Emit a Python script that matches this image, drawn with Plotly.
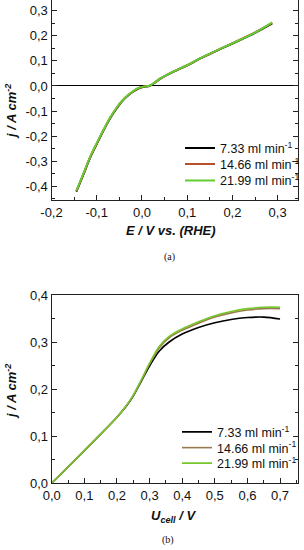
import plotly.graph_objects as go

# ---- data: panel (a) ----
E_a = [-0.145, -0.13, -0.115, -0.10, -0.085, -0.07, -0.055, -0.045, -0.034, -0.02,
       -0.008, 0.005, 0.017, 0.03, 0.04, 0.069, 0.10, 0.128, 0.16, 0.20, 0.25, 0.288]
j_a_733 = [-0.422, -0.356, -0.288, -0.232, -0.178, -0.128, -0.087, -0.063, -0.043, -0.023,
           -0.010, -0.003, 0.0, 0.015, 0.028, 0.056, 0.082, 0.109, 0.136, 0.169, 0.212, 0.250]
j_a_1466 = [-0.420, -0.354, -0.286, -0.230, -0.176, -0.126, -0.085, -0.062, -0.042, -0.022,
            -0.009, -0.002, 0.001, 0.016, 0.029, 0.057, 0.083, 0.110, 0.137, 0.171, 0.214, 0.252]
j_a_2199 = [-0.418, -0.352, -0.284, -0.228, -0.175, -0.125, -0.084, -0.061, -0.041, -0.021,
            -0.008, -0.002, 0.001, 0.016, 0.029, 0.057, 0.083, 0.110, 0.137, 0.170, 0.213, 0.254]

# ---- data: panel (b) ----
U_b = [0.0, 0.05, 0.10, 0.15, 0.20, 0.225, 0.25, 0.275, 0.30, 0.33, 0.36, 0.40, 0.45, 0.50, 0.55, 0.60, 0.65, 0.70]
j_b_733 = [0.0, 0.034, 0.069, 0.104, 0.140, 0.160, 0.185, 0.217, 0.249, 0.281, 0.300, 0.317, 0.331, 0.341, 0.348, 0.352, 0.353, 0.349]
j_b_1466 = [0.0, 0.034, 0.069, 0.104, 0.140, 0.161, 0.186, 0.219, 0.253, 0.288, 0.309, 0.325, 0.340, 0.353, 0.362, 0.368, 0.371, 0.371]
j_b_2199 = [0.0, 0.034, 0.069, 0.104, 0.140, 0.161, 0.187, 0.220, 0.255, 0.291, 0.312, 0.328, 0.343, 0.356, 0.365, 0.371, 0.374, 0.374]

series_names = ["7.33 ml min<sup>-1</sup>", "14.66 ml min<sup>-1</sup>", "21.99 ml min<sup>-1</sup>"]

# ---- tick labels ----
xa_vals = [-0.2, -0.1, 0.0, 0.1, 0.2, 0.3]
xa_text = ["-0,2", "-0,1", "0,0", "0,1", "0,2", "0,3"]
ya_vals = [-0.4, -0.3, -0.2, -0.1, 0.0, 0.1, 0.2, 0.3]
ya_text = ["-0,4", "-0,3", "-0,2", "-0,1", "0,0", "0,1", "0,2", "0,3"]
xb_vals = [0.0, 0.1, 0.2, 0.3, 0.4, 0.5, 0.6, 0.7]
xb_text = ["0,0", "0,1", "0,2", "0,3", "0,4", "0,5", "0,6", "0,7"]
yb_vals = [0.0, 0.1, 0.2, 0.3, 0.4]
yb_text = ["0,0", "0,1", "0,2", "0,3", "0,4"]

colors_a = ["#000000", "#B8522E", "#66CC33"]
colors_b = ["#000000", "#9A7A52", "#77C62A"]

W, H = 304, 550


def px_x(p):
    return p / W


def px_y(p):
    return 1 - p / H


fig = go.Figure()

legfont = dict(family="Liberation Sans, Arial, sans-serif", size=12.5, color="#111")
legends = {}
rows_a = [148.3, 164.3, 180.8]
rows_b = [432.3, 448.0, 463.5]
for i, (ys, nm, c) in enumerate(zip([j_a_733, j_a_1466, j_a_2199], series_names, colors_a)):
    lg = "legend" if i == 0 else f"legend{i + 1}"
    fig.add_trace(go.Scatter(x=E_a, y=ys, mode="lines", name=nm, line=dict(color=c, width=2, shape="spline"),
                             xaxis="x", yaxis="y", legend=lg))
    legends[lg] = dict(x=px_x(180), y=px_y(rows_a[i]), xanchor="left", yanchor="middle",
                       bgcolor="rgba(0,0,0,0)", font=legfont, itemwidth=30)
for i, (ys, nm, c) in enumerate(zip([j_b_733, j_b_1466, j_b_2199], series_names, colors_b)):
    lg = f"legend{i + 4}"
    fig.add_trace(go.Scatter(x=U_b, y=ys, mode="lines", name=nm, line=dict(color=c, width=1.6, shape="spline"),
                             xaxis="x2", yaxis="y2", legend=lg))
    legends[lg] = dict(x=px_x(177), y=px_y(rows_b[i]), xanchor="left", yanchor="middle",
                       bgcolor="rgba(0,0,0,0)", font=legfont, itemwidth=30)

tickfont = dict(family="Liberation Sans, Arial, sans-serif", size=13, color="#111")
common = dict(ticks="inside", ticklen=5, tickwidth=1, tickcolor="#222", showline=True, linecolor="#222",
              linewidth=1.2, showgrid=False, tickfont=tickfont, automargin=False,
              minor=dict(ticks="inside", ticklen=3, tickcolor="#222", dtick=0.05, showgrid=False))

fig.update_layout(
    width=W, height=H, margin=dict(l=0, r=0, t=0, b=0, autoexpand=False),
    paper_bgcolor="white", plot_bgcolor="white", showlegend=True,
    xaxis=dict(domain=[px_x(51.5), px_x(298)], range=[-0.2, 0.345], anchor="y",
               tickvals=xa_vals, ticktext=xa_text, zeroline=False, mirror=False, **common),
    yaxis=dict(domain=[px_y(200), px_y(0)], range=[-0.455, 0.343], anchor="x",
               tickvals=ya_vals, ticktext=ya_text, zeroline=True, zerolinecolor="#000",
               zerolinewidth=1.2, mirror="ticks", **common),
    xaxis2=dict(domain=[px_x(51.7), px_x(298)], range=[0, 0.755], anchor="y2",
                tickvals=xb_vals, ticktext=xb_text, zeroline=False, mirror=True, **common),
    yaxis2=dict(domain=[px_y(483), px_y(295)], range=[0, 0.4], anchor="x2",
                tickvals=yb_vals, ticktext=yb_text, zeroline=False, mirror="ticks", **common),
    **legends,
)

title_font = dict(family="Liberation Sans, Arial, sans-serif", size=13, color="#111")
serif = dict(family="Liberation Serif, DejaVu Serif, serif", size=10, color="#111")
ann = [
    dict(text="<b><i>E / V vs. (RHE)</i></b>", x=px_x(171), y=px_y(230), font=title_font),
    dict(text="<b><i>j / A cm<sup>-2</sup></i></b>", x=px_x(11), y=px_y(112), font=title_font, textangle=-90),
    dict(text="(a)", x=px_x(169), y=px_y(257), font=serif),
    dict(text="<b><i>U</i></b><sub><b><i>cell</i></b></sub><b><i> / V</i></b>", x=px_x(174), y=px_y(516), font=title_font),
    dict(text="<b><i>j / A cm<sup>-2</sup></i></b>", x=px_x(11), y=px_y(392), font=title_font, textangle=-90),
    dict(text="(b)", x=px_x(168), y=px_y(540), font=serif),
]
for a in ann:
    fig.add_annotation(xref="paper", yref="paper", showarrow=False, xanchor="center", yanchor="middle", **a)

fig.write_html("out.html", config={"displayModeBar": False},
               post_script="document.body.style.margin='0';")
